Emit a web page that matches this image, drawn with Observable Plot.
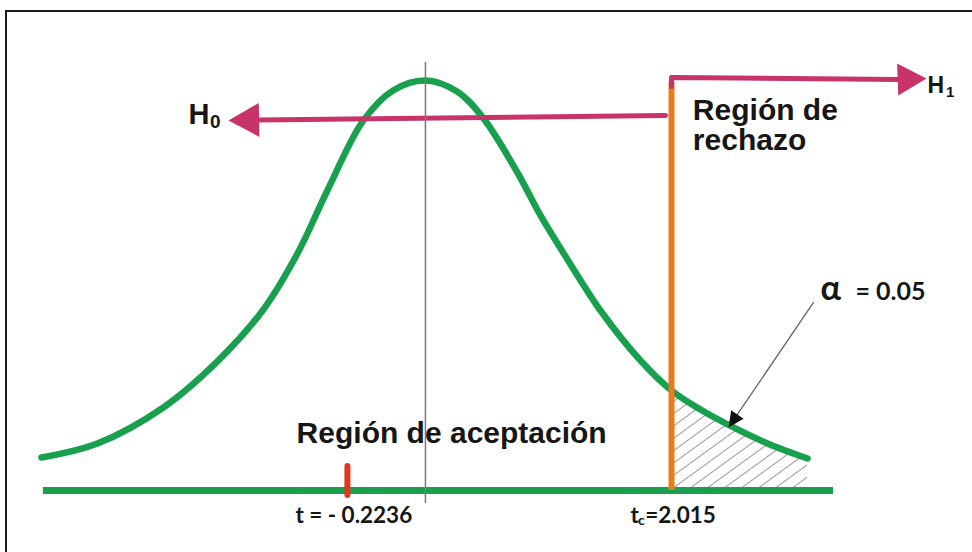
<!DOCTYPE html>
<html><head><meta charset="utf-8">
<script src="https://cdn.jsdelivr.net/npm/d3@7"></script>
<script src="https://cdn.jsdelivr.net/npm/@observablehq/plot@0.6"></script>
<style>
html,body{margin:0;padding:0;background:#fff;}
#wrap{position:relative;width:972px;height:552px;overflow:hidden;background:#fff;}
#frame{position:absolute;left:5px;top:10px;right:-5px;bottom:-5px;border-top:2px solid #1a1a1a;border-left:2px solid #1a1a1a;pointer-events:none;}
</style></head>
<body><div id="wrap"><div id="frame"></div></div>
<script>
// ---- data (t axis units: centre 0, critical value 2.015; y: density-like height) ----
const curveX = [-3.145,-2.686,-2.146,-1.704,-1.327,-1.048,-0.803,-0.508,-0.262,0,0.262,0.475,0.753,0.942,1.163,1.433,1.761,2.015,2.252,2.523,2.801,3.129];
const curveY = [0.0322,0.0459,0.0810,0.1259,0.1766,0.2312,0.2927,0.3610,0.3905,0.4000,0.3890,0.3630,0.3102,0.2683,0.2254,0.1756,0.1268,0.0976,0.0790,0.0615,0.0459,0.0312];
const axisExtent = [-3.129, 3.342];
const criticalT = 2.015;
const observedT = -0.2236;
const observedDrawnAt = -0.639;   // where the picture places the observed t tick
const alpha = 0.05;
const meanLineY = [-0.0127, 0.4176];
const criticalLineTop = 0.398;
const h0Line = [{x:1.966,y:0.3659},{x:-1.368,y:0.3615}];
const h0Tip = {x:-1.613,y:0.361};
const h1Line = [{x:2.015,y:0.394},{x:2.015,y:0.4029},{x:3.866,y:0.401}];
const h1Tip = {x:4.103,y:0.402};
const alphaLine = [{x:3.178,y:0.1834},{x:2.482,y:0.0615}];
const alphaTip = {x:2.482,y:0.0615};
const labelsArial = [
  {text:"Región de aceptación", x:-1.055, y:0.0459, size:30},
  {text:"Región de\nrechazo", x:2.19, y:0.3317, size:30, lh:1.02},
  {text:"H", x:-1.941, y:0.358, size:29},
  {text:"0", x:-1.765, y:0.3532, size:19},
  {text:"H", x:4.111, y:0.3873, size:23},
  {text:"1", x:4.262, y:0.3834, size:15}
];
const labelsCalibri = [
  {text:"t = - " + Math.abs(observedT), x:-1.065, y:-0.0322, size:22.5},
  {text:"t", x:1.679, y:-0.0322, size:22.5},
  {text:"c", x:1.74, y:-0.0332, size:14},
  {text:"=" + criticalT, x:1.80, y:-0.0322, size:22.5},
  {text:"α", x:3.235, y:0.1854, size:34},
  {text:"= " + alpha, x:3.522, y:0.1854, size:25}
];

// ---- chart ----
const W = 972, H = 552;
const xDomain = [-3.48, 4.48];
const yDomain = [-0.0605, 0.478];
const kx = W / (xDomain[1] - xDomain[0]);
const ky = H / (yDomain[1] - yDomain[0]);
const GREEN = "#19a04e", ORANGE = "#e97b1d", RED = "#e0381f", MAGENTA = "#c8336a";

const curve = curveX.map((x, i) => ({x, y: curveY[i]}));
const tail = curve.filter(d => d.x >= criticalT);

function angleTo(a, b) {
  return Math.atan2(-(b.y - a.y) * ky, (b.x - a.x) * kx) * 180 / Math.PI;
}
function arrowHead(ratio) {
  return {draw(ctx, size) {
    const r = Math.sqrt(size / Math.PI);
    ctx.moveTo(0, 0);
    ctx.lineTo(-ratio * r, -r);
    ctx.lineTo(-ratio * r, r);
    ctx.closePath();
  }};
}

const textMarks = (arr, family) => arr.map(d => Plot.text([d], {
  x: "x", y: "y", text: "text", textAnchor: "start", lineAnchor: "bottom",
  fontFamily: family, fontSize: d.size, fontWeight: d.weight || "bold",
  fill: "#161616", lineHeight: d.lh || 1
}));

const chart = Plot.plot({
  width: W, height: H, margin: 0,
  x: {domain: xDomain, axis: null},
  y: {domain: yDomain, axis: null},
  style: {background: "white", overflow: "visible"},
  marks: [
    Plot.areaY(tail, {x: "x", y: "y", fill: "url(#hatch)", curve: "catmull-rom"}),
    Plot.line(curve, {x: "x", y: "y", stroke: GREEN, strokeWidth: 6.5, curve: "catmull-rom", strokeLinecap: "round"}),
    Plot.ruleY([0], {x1: axisExtent[0], x2: axisExtent[1], stroke: GREEN, strokeWidth: 7}),
    Plot.line(h0Line, {x: "x", y: "y", stroke: MAGENTA, strokeWidth: 5}),
    Plot.dot([h0Tip], {x: "x", y: "y", symbol: arrowHead(1.8), r: 17, fill: MAGENTA, stroke: "none", rotate: angleTo(h0Line[h0Line.length-1], h0Tip)}),
    Plot.ruleX([criticalT], {y1: 0, y2: criticalLineTop, stroke: ORANGE, strokeWidth: 6}),
    Plot.line(h1Line, {x: "x", y: "y", stroke: MAGENTA, strokeWidth: 5}),
    Plot.dot([h1Tip], {x: "x", y: "y", symbol: arrowHead(1.8), r: 16, fill: MAGENTA, stroke: "none", rotate: angleTo(h1Line[h1Line.length-1], h1Tip)}),
    Plot.ruleX([0], {y1: meanLineY[0], y2: meanLineY[1], stroke: "#7a7a7a", strokeWidth: 1.5}),
    Plot.ruleX([observedDrawnAt], {y1: -0.0049, y2: 0.0234, stroke: RED, strokeWidth: 6, strokeLinecap: "round"}),
    Plot.line(alphaLine, {x: "x", y: "y", stroke: "#666", strokeWidth: 1.3}),
    Plot.dot([alphaTip], {x: "x", y: "y", symbol: arrowHead(2.1), r: 7.5, fill: "#111", stroke: "none", rotate: angleTo(alphaLine[0], alphaTip)}),
    ...textMarks(labelsArial, "'Liberation Sans', Arial, sans-serif"),
    ...textMarks(labelsCalibri, "Lato, 'Open Sans', sans-serif")
  ]
});

const svg = d3.select(chart);
const defs = svg.insert("defs", ":first-child");
const pat = defs.append("pattern").attr("id", "hatch").attr("patternUnits", "userSpaceOnUse")
  .attr("width", 10).attr("height", 10).attr("patternTransform", "rotate(54)");
pat.append("line").attr("x1", 0).attr("y1", -1).attr("x2", 0).attr("y2", 11)
  .attr("stroke", "#555").attr("stroke-width", 1.2);

document.getElementById("wrap").insertBefore(chart, document.getElementById("frame"));
</script>
</body></html>
